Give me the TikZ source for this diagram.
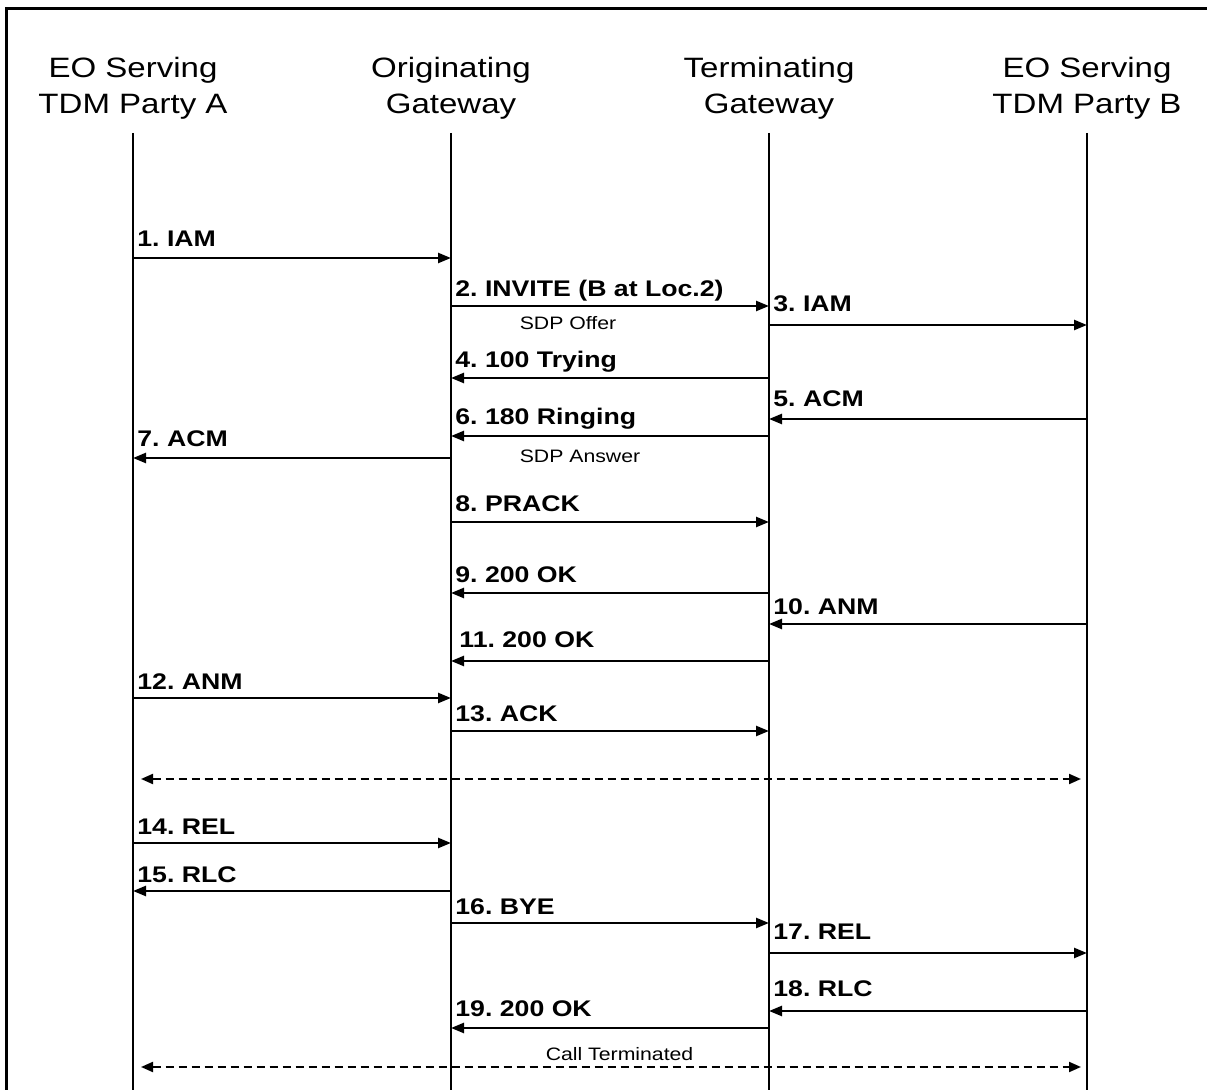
\documentclass[tikz,border=0pt]{standalone}
\usepackage{fontspec}
\setmainfont{Liberation Sans}[FakeStretch=1.18]
\frenchspacing
\usetikzlibrary{arrows.meta}
\tikzset{
  party/.style={align=center, font=\fontsize{14}{18}\selectfont, inner sep=0pt},
  lifeline/.style={line width=0.9pt},
  msg/.style={-{Triangle[length=6.5pt,width=5pt]}, line width=1.2pt},
  msglabel/.style={anchor=base west, font=\fontsize{11.3}{13}\selectfont\bfseries, inner sep=0pt, xshift=2pt},
  sdpnote/.style={anchor=base, font=\fontsize{9}{11}\selectfont, inner sep=0pt},
  callline/.style={{Triangle[length=6pt,width=5pt]}-{Triangle[length=6pt,width=5pt]}, line width=1pt,
    dash pattern=on 4pt off 2.5pt, shorten <=4pt, shorten >=3pt},
  frame/.style={line width=1.5pt},
}
\begin{document}
\begin{tikzpicture}[x=0.5pt, y=-0.5pt]
  \useasboundingbox (0,0) rectangle (1207,1090);
  \draw[frame] (6,1090) -- (6,8.5) -- (1207,8.5);
  % parties and lifelines
  \node[party] (pa) at (133,88) {EO Serving\\TDM Party A};
  \node[party] (og) at (451,88) {Originating\\Gateway};
  \node[party] (tg) at (769,88) {Terminating\\Gateway};
  \node[party] (pb) at (1087,88) {EO Serving\\TDM Party B};
  \foreach \p in {pa,og,tg,pb}
    \draw[lifeline] (\p |- 0,133) -- (\p |- 0,1090);
  % messages: from/to/label side/arrow y/label baseline
  \foreach \f/\t/\l/\y/\b/\txt in {
      pa/og/pa/258/247/{1. IAM},
      og/tg/og/306/297/{2. INVITE (B at Loc.2)},
      tg/pb/tg/325/312/{3. IAM},
      tg/og/og/378/368/{4. 100 Trying},
      pb/tg/tg/419/407/{5. ACM},
      tg/og/og/436/425/{6. 180 Ringing},
      og/pa/pa/458/447/{7. ACM},
      og/tg/og/522/512/{8. PRACK},
      tg/og/og/593/583/{9. 200 OK},
      pb/tg/tg/624/615/{10. ANM},
      tg/og/og/661/648/{\hspace{2pt}11. 200 OK},
      pa/og/pa/698/690/{12. ANM},
      og/tg/og/731/722/{13. ACK},
      pa/og/pa/843/835/{14. REL},
      og/pa/pa/891/883/{15. RLC},
      og/tg/og/923/915/{16. BYE},
      tg/pb/tg/953/940/{17. REL},
      pb/tg/tg/1011/997/{18. RLC},
      tg/og/og/1028/1017/{19. 200 OK}} {
    \draw[msg] (\f |- 0,\y) -- (\t |- 0,\y);
    \node[msglabel] at (\l |- 0,\b) {\txt};
  }
  \node[sdpnote] (offer) at (568,330) {SDP Offer};
  \node[sdpnote] (answer) at (580,463) {SDP Answer};
  % end to end
  \draw[callline] (pa |- 0,779) -- (pb |- 0,779);
  \draw[callline] (pa |- 0,1067) -- (pb |- 0,1067)
    node[sdpnote, pos=0.51, yshift=3pt] (term) {Call Terminated};
\end{tikzpicture}
\end{document}
